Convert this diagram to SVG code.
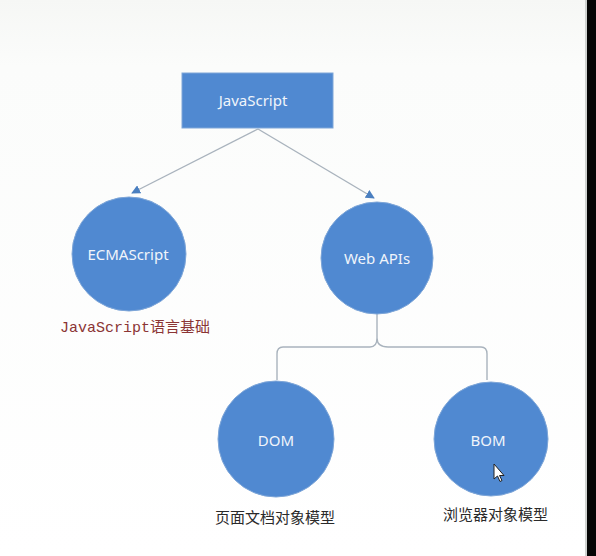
<svg xmlns="http://www.w3.org/2000/svg" width="596" height="556" viewBox="0 0 596 556">
<defs>
<linearGradient id="bg" x1="0" y1="0" x2="0" y2="1">
<stop offset="0" stop-color="#f6f7f5"/>
<stop offset="0.12" stop-color="#fbfcfb"/>
<stop offset="1" stop-color="#ffffff"/>
</linearGradient>
<marker id="arr" viewBox="0 0 10 10" refX="9" refY="5" markerWidth="9" markerHeight="9" orient="auto" markerUnits="userSpaceOnUse">
<path d="M0,0 L10,5 L0,10 z" fill="#4a7fc0"/>
</marker>
<style>
.node{fill:#5089d1;stroke:#7ea6d8;stroke-width:1}
.nt{font-family:"Noto Sans","Open Sans",sans-serif;font-size:15px;fill:#f0f5fb;text-anchor:middle}
.conn{fill:none;stroke:#a9b3bd;stroke-width:1.4}
.cap{font-family:"Noto Sans CJK SC","Noto Sans",sans-serif;font-size:15px;fill:#2a2a2a}
</style>
</defs>
<rect x="0" y="0" width="596" height="556" fill="url(#bg)"/>
<rect x="587" y="0" width="9" height="556" fill="#050505"/>
<rect x="585" y="0" width="2" height="556" fill="#cfd2d0"/>
<g id="connectors">
<line class="conn" x1="258" y1="129" x2="132" y2="193" marker-end="url(#arr)"/>
<line class="conn" x1="258" y1="129" x2="374" y2="198" marker-end="url(#arr)"/>
<path class="conn" d="M377,314 V338 Q377,347 370,347 L283,347 Q277,347 277,354 V380 M377,338 Q377,347 388,347 L481,347 Q487,347 487,354 V380"/>
</g>
<g id="javascript">
<rect class="node" x="182" y="73" width="151" height="55"/>
<text class="nt" x="253" y="106">JavaScript</text>
</g>
<g id="ecmascript">
<circle class="node" cx="129" cy="254" r="57"/>
<text class="nt" x="128" y="260">ECMAScript</text>
<text x="60" y="332" font-family="'Liberation Mono','Noto Sans CJK SC',monospace" font-size="15" fill="#8b3535">JavaScript语言基础</text>
</g>
<g id="webapis">
<circle class="node" cx="377" cy="258" r="56"/>
<text class="nt" x="377" y="264">Web APIs</text>
</g>
<g id="dom">
<circle class="node" cx="276" cy="439" r="58"/>
<text class="nt" x="276" y="446">DOM</text>
<text class="cap" x="215" y="523">页面文档对象模型</text>
</g>
<g id="bom">
<circle class="node" cx="491" cy="439" r="57"/>
<text class="nt" x="488" y="446">BOM</text>
<text class="cap" x="443" y="520">浏览器对象模型</text>
</g>
<path d="M494,464 L494,479 L497.5,476 L500,481.5 L502,480.5 L499.5,475.5 L504,475.5 Z" fill="#ffffff" stroke="#222" stroke-width="1"/>
</svg>
